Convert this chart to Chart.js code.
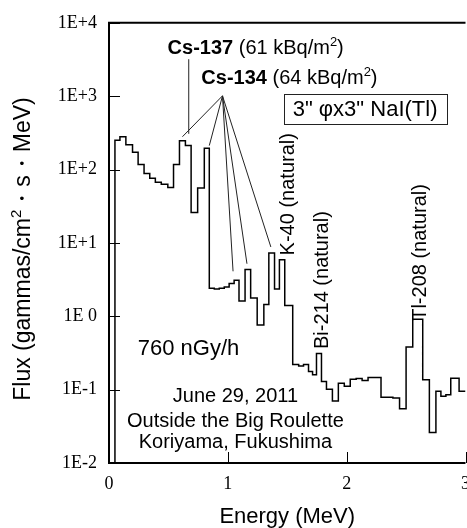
<!DOCTYPE html>
<html>
<head>
<meta charset="utf-8">
<script src="https://cdn.jsdelivr.net/npm/chart.js@4.4.0/dist/chart.umd.min.js"></script>
<style>
  html, body { margin: 0; padding: 0; overflow: hidden; background: #fff; width: 467px; height: 528px; }
  #wrap { width: 467px; height: 528px; overflow: hidden; position: relative; }
  #spectrum { position: absolute; left: 0; top: 0; }
</style>
</head>
<body>
<div id="wrap"><canvas id="spectrum" width="480" height="528"></canvas></div>
<script>
// left edge of each bin (MeV) and flux in it (gammas/cm2.s.MeV)
const energyEdges = [0.050, 0.092, 0.142, 0.198, 0.245, 0.295, 0.343, 0.390, 0.440, 0.495,
  0.543, 0.593, 0.643, 0.691, 0.746, 0.802, 0.844, 0.886, 0.928, 0.970,
  1.011, 1.053, 1.094, 1.145, 1.192, 1.247, 1.303, 1.345, 1.393, 1.434,
  1.479, 1.546, 1.596, 1.637, 1.679, 1.713, 1.746, 1.788, 1.830, 1.880,
  1.930, 1.980, 2.030, 2.080, 2.130, 2.180, 2.289, 2.389, 2.445, 2.500,
  2.556, 2.640, 2.696, 2.751, 2.793, 2.835, 2.876, 2.946];
const fluxValues = [250, 280, 218, 172, 117, 88, 76, 67, 63, 57,
  117, 247, 212, 26, 56, 195, 2.4, 2.35, 2.4, 2.5,
  2.8, 3.1, 1.62, 4.35, 1.78, 0.76, 1.45, 7.3, 2.35, 5.9,
  1.40, 0.22, 0.21, 0.22, 0.176, 0.16, 0.31, 0.129, 0.101, 0.070,
  0.122, 0.111, 0.138, 0.142, 0.133, 0.146, 0.079, 0.077, 0.055, 0.38,
  0.91, 0.136, 0.026, 0.095, 0.081, 0.085, 0.143, 0.095];
const energyMax = 3;

const xTicks = [0, 1, 2, 3];
const yTicks = [1e-2, 1e-1, 1, 10, 100, 1000, 10000];
const yTickLabels = ['1E-2', '1E-1', '1E 0', '1E+1', '1E+2', '1E+3', '1E+4'];

// annotation anchors as (MeV, flux)
const cs137Leader = [[0.671, 3190], [0.671, 307]];
const cs134Apex = [0.955, 1010];
const cs134Ends = [[0.618, 280], [0.844, 212], [1.044, 4.1], [1.161, 5.2], [1.362, 8.8]];
const naturalLabels = [
  ['K-40 (natural)', 1.554, 6.76],
  ['Bi-214 (natural)', 1.846, 0.358],
  ['Tl-208 (natural)', 2.667, 0.867],
];
const siteLines = ['June 29, 2011', 'Outside the Big Roulette', 'Koriyama, Fukushima'];
const siteBaselines = [0.0678, 0.0313, 0.0159];

const SANS = "'Liberation Sans', Arial, sans-serif";

const points = [{x: energyEdges[0], y: 0.01}];
energyEdges.forEach((e, i) => points.push({x: e, y: fluxValues[i]}));
points.push({x: energyMax, y: fluxValues[fluxValues.length - 1]});

function drawParts(ctx, parts, x, y) {
  parts.forEach(p => {
    ctx.font = p.font;
    ctx.fillText(p.text, x, y - (p.rise || 0));
    x += ctx.measureText(p.text).width;
  });
}
function partsWidth(ctx, parts) {
  return parts.reduce((w, p) => { ctx.font = p.font; return w + ctx.measureText(p.text).width; }, 0);
}

const decorations = {
  id: 'decorations',
  afterDraw(chart) {
    const {ctx, chartArea: a, scales: {x, y}} = chart;
    const px = v => x.getPixelForValue(v);
    const py = v => y.getPixelForValue(v);
    ctx.save();
    ctx.fillStyle = '#000';
    ctx.strokeStyle = '#000';

    // frame
    ctx.lineWidth = 2;
    ctx.beginPath();
    ctx.moveTo(a.right, a.top); ctx.lineTo(a.left, a.top);
    ctx.lineTo(a.left, a.bottom); ctx.lineTo(a.right, a.bottom);
    ctx.stroke();

    // inner tick marks
    ctx.lineWidth = 1;
    ctx.beginPath();
    yTicks.forEach(v => { const p = Math.round(py(v)) + 0.5; ctx.moveTo(a.left, p); ctx.lineTo(a.left + 11, p); });
    xTicks.forEach(v => { const p = Math.round(px(v)) + 0.5; ctx.moveTo(p, a.bottom); ctx.lineTo(p, a.bottom - 11); });
    ctx.stroke();

    // leader lines
    ctx.strokeStyle = '#222';
    ctx.beginPath();
    ctx.moveTo(px(cs137Leader[0][0]), py(cs137Leader[0][1]));
    ctx.lineTo(px(cs137Leader[1][0]), py(cs137Leader[1][1]));
    cs134Ends.forEach(([e, f]) => {
      ctx.moveTo(px(cs134Apex[0]), py(cs134Apex[1]));
      ctx.lineTo(px(e), py(f));
    });
    ctx.stroke();

    ctx.textBaseline = 'alphabetic';
    ctx.textAlign = 'left';
    const sup = "13px " + SANS;
    drawParts(ctx, [
      {text: 'Cs-137', font: 'bold 20px ' + SANS},
      {text: ' (61 kBq/m', font: '20px ' + SANS},
      {text: '2', font: sup, rise: 8},
      {text: ')', font: '20px ' + SANS},
    ], px(0.493), py(3725));
    drawParts(ctx, [
      {text: 'Cs-134', font: 'bold 20px ' + SANS},
      {text: ' (64 kBq/m', font: '20px ' + SANS},
      {text: '2', font: sup, rise: 8},
      {text: ')', font: '20px ' + SANS},
    ], px(0.777), py(1480));

    // detector box
    const bx0 = px(1.470), bx1 = px(2.840), by0 = py(1086), by1 = py(418);
    ctx.strokeRect(Math.round(bx0) + 0.5, Math.round(by0) + 0.5, Math.round(bx1 - bx0), Math.round(by1 - by0));
    ctx.font = '22px ' + SANS;
    ctx.textAlign = 'center';
    ctx.fillText('3" \u03C6x3" NaI(Tl)', (bx0 + bx1) / 2, py(535));

    // natural lines, rotated
    ctx.font = '20px ' + SANS;
    ctx.textAlign = 'left';
    naturalLabels.forEach(([t, e, f]) => {
      ctx.save();
      ctx.translate(px(e), py(f));
      ctx.rotate(-Math.PI / 2);
      ctx.fillText(t, 0, 0);
      ctx.restore();
    });

    ctx.font = '22px ' + SANS;
    ctx.fillText('760 nGy/h', px(0.242), py(0.297));

    ctx.font = '20px ' + SANS;
    ctx.textAlign = 'center';
    siteLines.forEach((t, i) => ctx.fillText(t, px(1.064), py(siteBaselines[i])));

    // axis titles
    ctx.font = '22px ' + SANS;
    ctx.fillText('Energy (MeV)', (a.left + a.right) / 2, 523);
    const yTitle = [
      {text: 'Flux (gammas/cm', font: '23px ' + SANS},
      {text: '2', font: '15px ' + SANS, rise: 9},
      {text: '\u30FBs\u30FBMeV)', font: '23px ' + SANS},
    ];
    ctx.textAlign = 'left';
    ctx.save();
    ctx.translate(30, 249 + partsWidth(ctx, yTitle) / 2);
    ctx.rotate(-Math.PI / 2);
    drawParts(ctx, yTitle, 0, 0);
    ctx.restore();

    ctx.restore();
  }
};

const ctx = document.getElementById('spectrum').getContext('2d');
new Chart(ctx, {
  type: 'line',
  data: {
    datasets: [{
      data: points,
      stepped: 'before',
      borderColor: '#000',
      borderWidth: 1.5,
      pointRadius: 0,
      fill: false,
    }]
  },
  options: {
    responsive: false,
    animation: false,
    layout: {padding: {top: 15, right: 12, left: 0, bottom: 0}},
    plugins: {legend: {display: false}, tooltip: {enabled: false}},
    scales: {
      x: {
        type: 'linear',
        min: 0,
        max: energyMax,
        grid: {display: false, drawTicks: false},
        border: {display: false},
        afterBuildTicks: s => { s.ticks = xTicks.map(v => ({value: v})); },
        afterFit: s => { s.height = 65; },
        ticks: {
          color: '#000',
          padding: 10,
          maxRotation: 0,
          font: {family: "'Liberation Serif', serif", size: 18},
          callback: v => String(v),
        },
      },
      y: {
        type: 'logarithmic',
        min: 0.01,
        max: 10000,
        grid: {display: false, drawTicks: false},
        border: {display: false},
        afterBuildTicks: s => { s.ticks = yTicks.map(v => ({value: v})); },
        afterFit: s => { s.width = 109; },
        ticks: {
          color: '#000',
          padding: 12,
          font: {family: "'Liberation Serif', serif", size: 18},
          callback: (v, i) => yTickLabels[i],
        },
      },
    },
  },
  plugins: [decorations],
});
</script>
</body>
</html>
